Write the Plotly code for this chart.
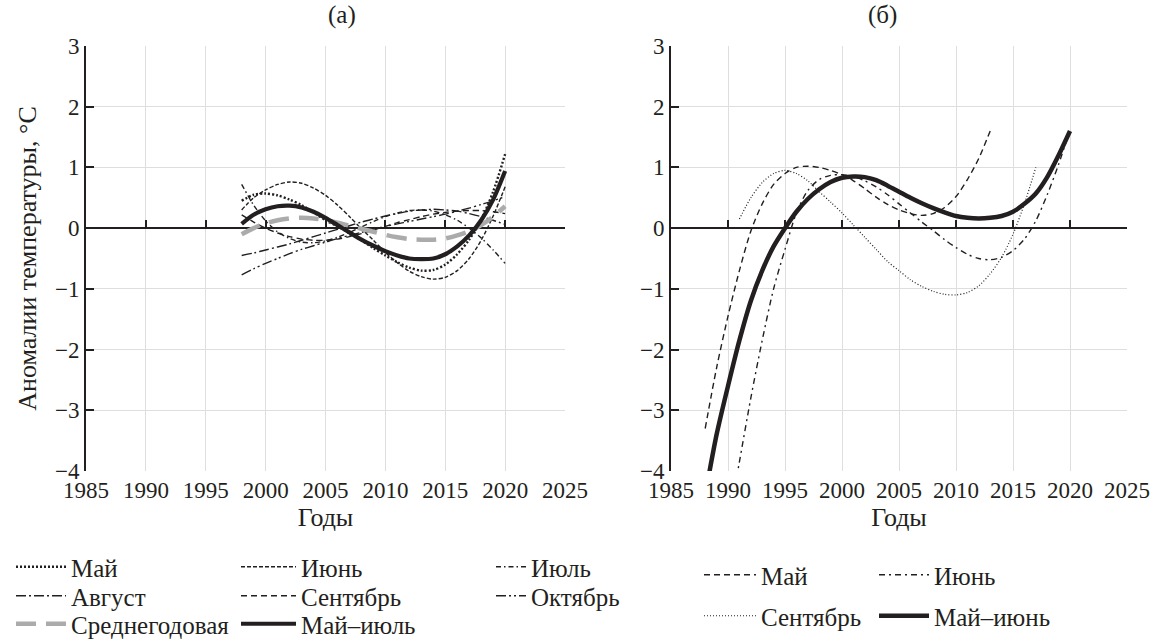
import plotly.graph_objects as go

# ---------------- data ----------------
x_ticks = [1985, 1990, 1995, 2000, 2005, 2010, 2015, 2020, 2025]
y_ticks = [-4, -3, -2, -1, 0, 1, 2, 3]

# panel (a) 1998-2020
years_a = list(range(1998, 2021))
a_may = [0.45, 0.55, 0.57, 0.54, 0.47, 0.38, 0.26, 0.13, 0.03, -0.08, -0.2, -0.33,
         -0.45, -0.56, -0.65, -0.7, -0.69, -0.6, -0.43, -0.19, 0.14, 0.6, 1.22]
a_jun = [0.3, 0.5, 0.63, 0.72, 0.76, 0.74, 0.66, 0.54, 0.38, 0.19, -0.01, -0.2,
         -0.4, -0.57, -0.71, -0.8, -0.84, -0.81, -0.7, -0.5, -0.2, 0.2, 0.68]
a_jul = [0.72, 0.38, 0.12, -0.06, -0.17, -0.23, -0.24, -0.21, -0.15, -0.07, 0.02, 0.11,
         0.19, 0.25, 0.29, 0.3, 0.28, 0.22, 0.13, 0.0, -0.16, -0.36, -0.58]
a_aug = [-0.45, -0.41, -0.36, -0.31, -0.26, -0.2, -0.14, -0.08, -0.02, 0.04, 0.1, 0.15,
         0.2, 0.24, 0.28, 0.3, 0.31, 0.3, 0.28, 0.24, 0.19, 0.13, 0.06]
a_sep = [0.22, 0.1, 0.0, -0.08, -0.14, -0.18, -0.2, -0.2, -0.18, -0.14, -0.09, -0.03,
         0.03, 0.09, 0.14, 0.19, 0.23, 0.26, 0.28, 0.29, 0.29, 0.27, 0.24]
a_oct = [-0.77, -0.67, -0.58, -0.5, -0.42, -0.35, -0.29, -0.23, -0.17, -0.12, -0.07, -0.02,
         0.03, 0.07, 0.11, 0.15, 0.19, 0.23, 0.28, 0.33, 0.39, 0.45, 0.52]
a_annual = [-0.1, 0.0, 0.08, 0.13, 0.16, 0.17, 0.16, 0.13, 0.09, 0.04, -0.01, -0.06,
            -0.11, -0.15, -0.18, -0.19, -0.19, -0.17, -0.12, -0.05, 0.05, 0.19, 0.36]
a_mayjul = [0.07, 0.22, 0.31, 0.36, 0.37, 0.34, 0.27, 0.17, 0.05, -0.07, -0.19, -0.29,
            -0.38, -0.45, -0.5, -0.51, -0.5, -0.43, -0.3, -0.12, 0.13, 0.47, 0.94]

# panel (б)
years_b_may = list(range(1988, 2014))
b_may = [-3.3, -2.3, -1.45, -0.7, -0.05, 0.4, 0.72, 0.9, 1.0, 1.02, 1.0, 0.95, 0.88,
         0.78, 0.65, 0.51, 0.39, 0.3, 0.24, 0.21, 0.24, 0.34, 0.52, 0.8, 1.15, 1.6]
years_b_jun = list(range(1990, 2021))
b_jun = [-4.9, -3.85, -2.8, -1.85, -1.0, -0.35, 0.25, 0.62, 0.8, 0.87, 0.88, 0.85, 0.78,
         0.68, 0.55, 0.4, 0.25, 0.1, -0.04, -0.19, -0.32, -0.43, -0.5, -0.52, -0.48,
         -0.37, -0.18, 0.12, 0.55, 1.05, 1.62]
years_b_sep = list(range(1991, 2018))
b_sep = [0.15, 0.5, 0.75, 0.9, 0.95, 0.9, 0.78, 0.6, 0.43, 0.25, 0.05, -0.15, -0.35,
         -0.55, -0.7, -0.85, -0.96, -1.04, -1.09, -1.1, -1.06, -0.95, -0.75, -0.48,
         -0.1, 0.4, 1.0]
years_b_mayjun = list(range(1988, 2021))
b_mayjun = [-4.4, -3.4, -2.6, -1.85, -1.2, -0.7, -0.3, 0.0, 0.27, 0.48, 0.64, 0.76,
            0.83, 0.85, 0.84, 0.79, 0.7, 0.6, 0.5, 0.41, 0.33, 0.26, 0.2, 0.17, 0.16,
            0.17, 0.2, 0.27, 0.4, 0.57, 0.84, 1.2, 1.6]

# ---------------- styling ----------------
INK = "#231f20"
GRID = "#dedede"
FONT = "Liberation Serif"
FS = 23      # tick labels
FS_T = 26    # axis titles
FS_L = 25    # legend
W, H = 1155, 639

dom_a = [86 / W, 565 / W]
dom_b = [671 / W, 1127 / W]
dom_y = [1 - 471 / H, 1 - 46 / H]
zero_pos = dom_y[0] + 4 / 7 * (dom_y[1] - dom_y[0])


def py(px):
    return 1 - px / H


fig = go.Figure()
legend_layout = {}
leg_counter = [0]


def add(x, y, name, xa, ya, sample_x, text_x, ly, dash="solid", width=1.4, color=INK):
    leg_counter[0] += 1
    key = "legend" if leg_counter[0] == 1 else f"legend{leg_counter[0]}"
    lx = sample_x - 6
    iw = max(30, text_x - 11 - lx)
    legend_layout[key] = dict(x=lx / W, y=py(ly), xanchor="left", yanchor="middle",
                              itemwidth=iw, bgcolor="rgba(0,0,0,0)",
                              font=dict(family=FONT, size=FS_L, color=INK))
    fig.add_trace(go.Scatter(
        x=x, y=y, name=name, mode="lines", xaxis=xa, yaxis=ya, legend=key,
        line=dict(color=color, width=width, dash=dash, shape="spline", smoothing=0.8),
        hoverinfo="skip"))


ra = [567, 596, 624]
rb = [575, 616]

# panel (a) traces
add(years_a, a_may, "Май", "x", "y", 17, 72, ra[0], dash="2px,2px", width=2.4)
add(years_a, a_jun, "Июнь", "x", "y", 242, 302, ra[0], dash="4px,2px")
add(years_a, a_jul, "Июль", "x", "y", 497, 532, ra[0], dash="5px,3px,1.5px,3px")
add(years_a, a_aug, "Август", "x", "y", 17, 72, ra[1], dash="10px,3px,2px,3px")
add(years_a, a_sep, "Сентябрь", "x", "y", 242, 302, ra[1], dash="6px,4px")
add(years_a, a_oct, "Октябрь", "x", "y", 497, 532, ra[1], dash="10px,3px,2px,3px,2px,3px")
add(years_a, a_annual, "Среднегодовая", "x", "y", 17, 72, ra[2], dash="20px,10px",
    width=4.5, color="#ababab")
add(years_a, a_mayjul, "Май–июль", "x", "y", 242, 302, ra[2], width=4.2)

# panel (б) traces
add(years_b_may, b_may, "Май", "x2", "y2", 705, 762, rb[0], dash="6px,4px")
add(years_b_jun, b_jun, "Июнь", "x2", "y2", 880, 935, rb[0], dash="6px,4px,2px,4px")
add(years_b_sep, b_sep, "Сентябрь", "x2", "y2", 705, 762, rb[1], dash="1px,2px", width=1.2)
add(years_b_mayjun, b_mayjun, "Май–июнь", "x2", "y2", 880, 935, rb[1], width=4.5)

# helper traces for the tick axes along y = 0
fig.add_trace(go.Scatter(x=[None], y=[None], xaxis="x3", yaxis="y", showlegend=False, hoverinfo="skip"))
fig.add_trace(go.Scatter(x=[None], y=[None], xaxis="x4", yaxis="y2", showlegend=False, hoverinfo="skip"))

xcommon = dict(range=[1985, 2025], tickvals=x_ticks, ticktext=[str(v) for v in x_ticks],
               showgrid=True, gridcolor=GRID, gridwidth=1.2, zeroline=False, showline=False,
               ticks="", ticklabelstandoff=3,
               tickfont=dict(family=FONT, size=FS, color=INK), fixedrange=True,
               automargin=False,
               title=dict(text="Годы", font=dict(family=FONT, size=FS_T, color=INK), standoff=2))
ycommon = dict(range=[-4, 3], tickvals=y_ticks, showgrid=True, gridcolor=GRID, gridwidth=1.2,
               zeroline=True, zerolinecolor=INK, zerolinewidth=1.6,
               showline=True, linecolor=INK, linewidth=1.6,
               ticks="inside", ticklen=8, tickwidth=1.5, tickcolor=INK,
               tickfont=dict(family=FONT, size=FS, color=INK), fixedrange=True,
               automargin=False)
tickaxis = dict(range=[1985, 2025], tickvals=x_ticks, showticklabels=False, showgrid=False,
                zeroline=False, showline=False, ticks="inside", ticklen=8, tickwidth=1.5,
                tickcolor=INK, anchor="free", position=zero_pos, fixedrange=True,
                automargin=False)

fig.update_layout(
    width=W, height=H,
    margin=dict(l=0, r=0, t=0, b=0, autoexpand=False),
    paper_bgcolor="white", plot_bgcolor="white",
    font=dict(family=FONT, size=FS, color=INK),
    xaxis=dict(domain=dom_a, anchor="y", **xcommon),
    yaxis=dict(domain=dom_y, anchor="x",
               title=dict(text="Аномалии температуры, °C",
                          font=dict(family=FONT, size=FS_T, color=INK), standoff=11),
               **ycommon),
    xaxis2=dict(domain=dom_b, anchor="y2", **xcommon),
    yaxis2=dict(domain=dom_y, anchor="x2", **ycommon),
    xaxis3=dict(overlaying="x", **tickaxis),
    xaxis4=dict(overlaying="x2", **tickaxis),
    annotations=[
        dict(text="(a)", x=(dom_a[0] + dom_a[1]) / 2, y=py(15), xref="paper", yref="paper",
             yanchor="middle", showarrow=False, font=dict(family=FONT, size=25, color=INK)),
        dict(text="(б)", x=(dom_b[0] + dom_b[1]) / 2, y=py(15), xref="paper", yref="paper",
             yanchor="middle", showarrow=False, font=dict(family=FONT, size=25, color=INK)),
    ],
    **legend_layout,
)

fig.write_html("out.html")
